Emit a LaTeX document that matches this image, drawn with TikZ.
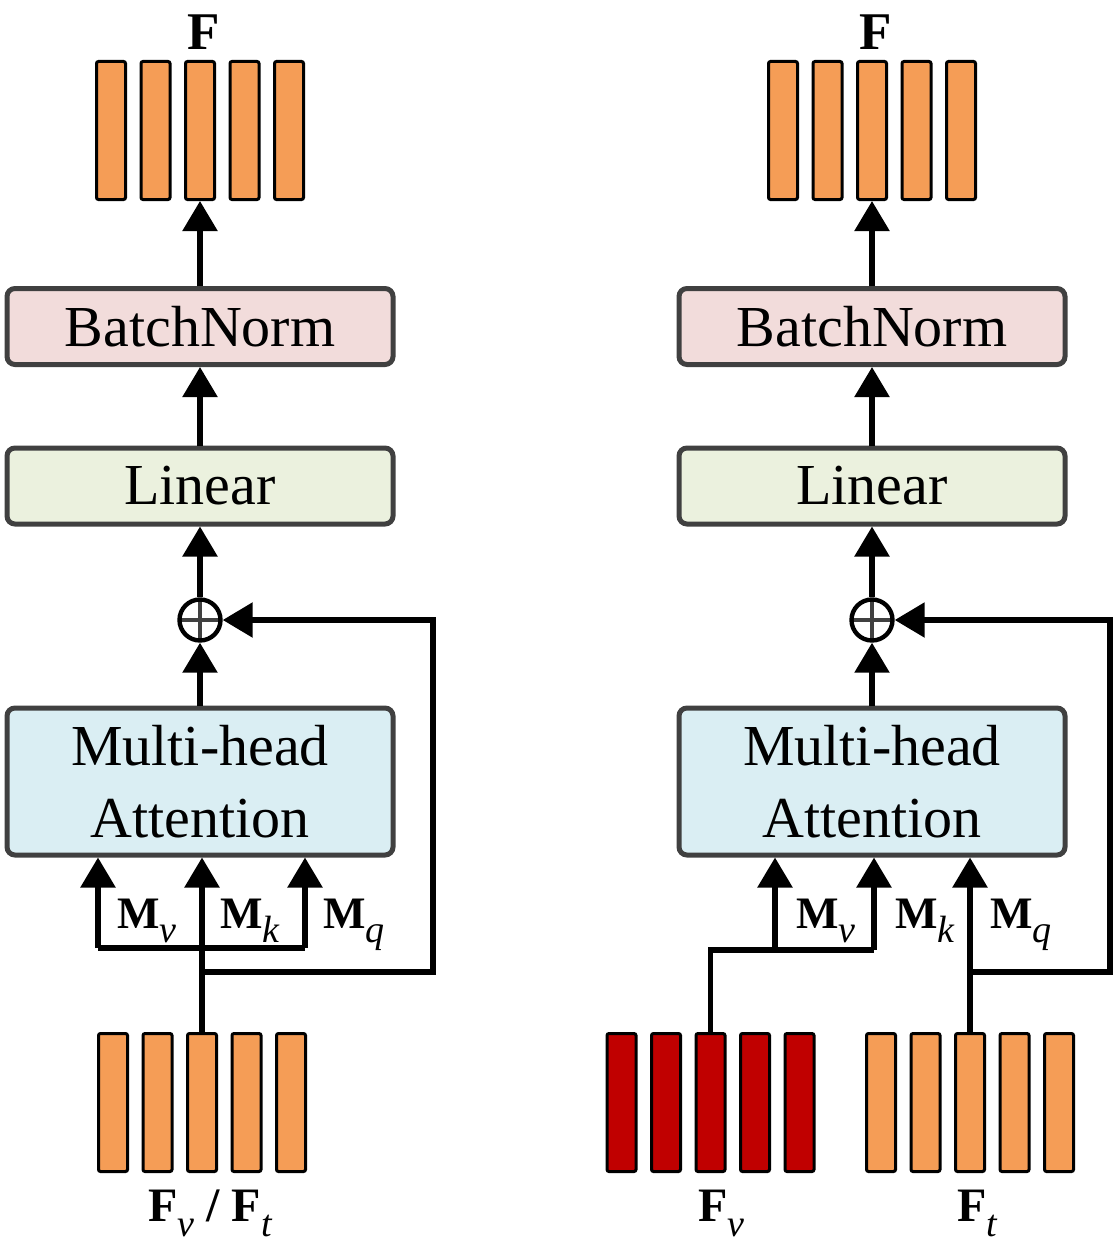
\documentclass[tikz,border=0pt]{standalone}
\usepackage{fontspec}
\setmainfont{Liberation Serif}
\usetikzlibrary{arrows.meta,calc}
\definecolor{barorange}{RGB}{245,157,86}
\definecolor{bardark}{RGB}{192,0,0}
\definecolor{bnpink}{RGB}{242,220,219}
\definecolor{lingreen}{RGB}{235,241,222}
\definecolor{attblue}{RGB}{218,238,243}
\definecolor{edgegrey}{RGB}{64,64,64}
\newcommand{\symb}[2]{{\bfseries #1}\raisebox{-0.32em}{\fontsize{19}{20}\selectfont\mdseries\itshape #2}}
\begin{document}
\begin{tikzpicture}[
  x=0.5pt,y=-0.5pt,
  box/.style={draw=edgegrey,line width=2.5pt,rounded corners=4pt,align=center,minimum width=193pt,inner sep=0pt,font=\fontsize{29}{36}\selectfont},
  bar/.style={draw=black,line width=1.5pt,rounded corners=1pt,minimum width=14.5pt,minimum height=69pt,inner sep=0pt,fill=barorange},
  arrow/.style={-{Triangle[length=15pt,width=17pt]},line width=2.8pt},
  wire/.style={line width=2.8pt},
  sum/.style={circle,draw,line width=2.2pt,minimum size=20.5pt,inner sep=0pt,
    path picture={\draw[line width=1.8pt,edgegrey] (path picture bounding box.north) -- (path picture bounding box.south)
      (path picture bounding box.west) -- (path picture bounding box.east);}},
  lab/.style={inner sep=0pt,anchor=base west,font=\fontsize{22.5}{24}\selectfont},
  flab/.style={inner sep=0pt,anchor=base west,font=\fontsize{24}{26}\selectfont\bfseries}
]
  \useasboundingbox (0,0) rectangle (1116,1247);

  % left branch
  \foreach \i/\dx in {1/-89,2/-44.5,3/0,4/44.5,5/89} {
    \node[bar] (out1-\i) at (200+\dx,130.5) {};
    \node[bar] (in1-\i) at (202+\dx,1102.5) {};
  }
  \node[flab,anchor=base,font=\fontsize{26.5}{28}\selectfont\bfseries] (f1) at (204,50) {F};
  \node[box,fill=bnpink,minimum height=38pt] (bn1) at (200,326.5) {BatchNorm};
  \node[box,fill=lingreen,minimum height=38pt] (lin1) at (200,486) {Linear};
  \node[sum] (sum1) at (200,620) {};
  \node[box,fill=attblue,minimum height=73.5pt] (mha1) at (200,781.5) {Multi-head\\Attention};
  \node[lab] (mv1) at (117,928) {\symb{M}{v}};
  \node[lab] (mk1) at (220,928) {\symb{M}{k}};
  \node[lab] (mq1) at (323,928) {\symb{M}{q}};
  \node[flab] (fin1) at (148,1221) {\symb{F}{v} / \symb{F}{t}};

  \coordinate (v1) at (98,948);
  \coordinate (q1) at (305,948);
  \coordinate (s1) at (433,972);
  \draw[wire] (v1) -- (q1);
  \draw[arrow] (v1) -- (v1 |- mha1.south);
  \draw[arrow] (q1) -- (q1 |- mha1.south);
  \draw[arrow] (in1-3.north) -- (in1-3.north |- mha1.south);
  \draw[arrow] (in1-3.north |- s1) -- (s1) |- (sum1.east);
  \draw[arrow] (mha1.north) -- (sum1.south);
  \draw[arrow] (sum1.north) -- (lin1.south);
  \draw[arrow] (lin1.north) -- (bn1.south);
  \draw[arrow] (bn1.north) -- (out1-3.south);

  % right branch
  \foreach \i/\dx in {1/-89,2/-44.5,3/0,4/44.5,5/89} {
    \node[bar] (out2-\i) at (872+\dx,130.5) {};
    \node[bar,fill=bardark] (fv-\i) at (710.5+\dx,1102.5) {};
    \node[bar] (ft-\i) at (970+\dx,1102.5) {};
  }
  \node[flab,anchor=base,font=\fontsize{26.5}{28}\selectfont\bfseries] (f2) at (876,50) {F};
  \node[box,fill=bnpink,minimum height=38pt] (bn2) at (872,326.5) {BatchNorm};
  \node[box,fill=lingreen,minimum height=38pt] (lin2) at (872,486) {Linear};
  \node[sum] (sum2) at (872,620) {};
  \node[box,fill=attblue,minimum height=73.5pt] (mha2) at (872,781.5) {Multi-head\\Attention};
  \node[lab] (mv2) at (796,928) {\symb{M}{v}};
  \node[lab] (mk2) at (895,928) {\symb{M}{k}};
  \node[lab] (mq2) at (990,928) {\symb{M}{q}};
  \node[flab] (fvl) at (698,1221) {\symb{F}{v}};
  \node[flab] (ftl) at (957,1221) {\symb{F}{t}};

  \coordinate (v2) at (775,950);
  \coordinate (k2) at (874,950);
  \coordinate (s2) at (1110,972);
  \draw[wire] (fv-3.north) |- (k2);
  \draw[arrow] (v2) -- (v2 |- mha2.south);
  \draw[arrow] (k2) -- (k2 |- mha2.south);
  \draw[arrow] (ft-3.north) -- (ft-3.north |- mha2.south);
  \draw[arrow] (ft-3.north |- s2) -- (s2) |- (sum2.east);
  \draw[arrow] (mha2.north) -- (sum2.south);
  \draw[arrow] (sum2.north) -- (lin2.south);
  \draw[arrow] (lin2.north) -- (bn2.south);
  \draw[arrow] (bn2.north) -- (out2-3.south);
\end{tikzpicture}
\end{document}
